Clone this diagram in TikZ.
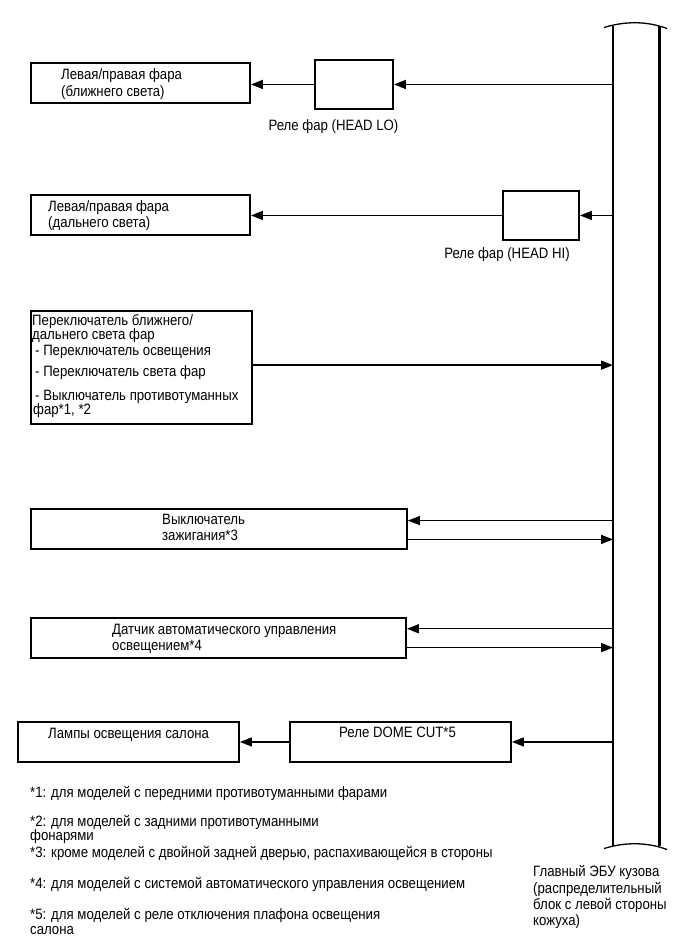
\documentclass[tikz,border=0pt]{standalone}
\usepackage{fontspec}
\setmainfont{Liberation Sans}[FakeStretch=0.88]
\usetikzlibrary{arrows.meta,calc}
\newcommand{\fsz}{\fontsize{15pt}{15pt}\selectfont}
\begin{document}
\begin{tikzpicture}[x=1pt,y=-1pt,
  box/.style={draw,line width=1.9pt,inner sep=0pt,anchor=north west},
  txt/.style={inner sep=0pt,anchor=base west,font=\fsz},
  ctxt/.style={inner sep=0pt,anchor=base,font=\fsz},
  conn/.style={line width=1.5pt,-{Triangle[length=12pt,width=9pt]}},
  wall/.style={line width=2.4pt},
  capline/.style={line width=1.3pt}]
\useasboundingbox (0,0) rectangle (689,950);

% ECU bus
\node[inner sep=0pt,minimum width=46pt,minimum height=820pt,anchor=north west] (bus) at (613,26) {};
\draw[wall] (bus.north west) -- (bus.south west);
\draw[wall] (bus.north east) -- (bus.south east);
\draw[capline] (604,27.5) .. controls (625,21) and (647,21) .. (667,28.5);
\draw[capline] (604,848.5) .. controls (625,842) and (647,842) .. (667,849.5);

% boxes
\node[box,minimum width=219pt,minimum height=40pt] (hlo) at (30,62) {};
\node[box,minimum width=78pt,minimum height=49pt] (rlo) at (314,59) {};
\node[box,minimum width=219pt,minimum height=40pt] (hhi) at (30,194) {};
\node[box,minimum width=76pt,minimum height=49pt] (rhi) at (502,190) {};
\node[box,minimum width=221pt,minimum height=113pt] (sw) at (30,310) {};
\node[box,minimum width=376pt,minimum height=40pt] (ig) at (30,508) {};
\node[box,minimum width=375pt,minimum height=40pt] (sn) at (30,617) {};
\node[box,minimum width=221pt,minimum height=40pt] (lamp) at (17,721) {};
\node[box,minimum width=221pt,minimum height=40pt] (dome) at (289,721) {};

% texts in boxes
\node[txt] (t1a) at (61,80) {Левая/правая фара};
\node[txt] (t1b) at (61,96.5) {(ближнего света)};
\node[ctxt] (tlo) at (333.5,130) {Реле фар (HEAD LO)};
\node[txt] (t2a) at (48,211) {Левая/правая фара};
\node[txt] (t2b) at (48,227) {(дальнего света)};
\node[ctxt] (thi) at (507,258) {Реле фар (HEAD HI)};
\node[txt] (s1) at (32,325) {Переключатель ближнего/};
\node[txt] (s2) at (32,339) {дальнего света фар};
\node[txt] (s3) at (35,355) {- Переключатель освещения};
\node[txt] (s4) at (35,376) {- Переключатель света фар};
\node[txt] (s5) at (35,400) {- Выключатель противотуманных};
\node[txt] (s6) at (33,414) {фар*1, *2};
\node[txt] (i1) at (162,524) {Выключатель};
\node[txt] (i2) at (162,540) {зажигания*3};
\node[txt] (n1) at (112,634) {Датчик автоматического управления};
\node[txt] (n2) at (112,650) {освещением*4};
\node[txt] (tl) at (48,738) {Лампы освещения салона};
\node[txt] (td) at (339,737.5) {Реле DOME CUT*5};

% footnotes
\node[txt] (f1) at (30,797) {*1: для моделей с передними противотуманными фарами};
\node[txt] (f2a) at (30,826) {*2: для моделей с задними противотуманными};
\node[txt] (f2b) at (30,840) {фонарями};
\node[txt] (f3) at (30,857.5) {*3: кроме моделей с двойной задней дверью, распахивающейся в стороны};
\node[txt] (f4) at (30,888) {*4: для моделей с системой автоматического управления освещением};
\node[txt] (f5a) at (30,919) {*5: для моделей с реле отключения плафона освещения};
\node[txt] (f5b) at (30,934) {салона};

% ECU label
\node[txt] (e1) at (533,876) {Главный ЭБУ кузова};
\node[txt] (e2) at (533,893) {(распределительный};
\node[txt] (e3) at (533,909) {блок с левой стороны};
\node[txt] (e4) at (533,925) {кожуха)};

% connectors
\draw[conn] (rlo.east -| bus.west) -- (rlo.east);
\draw[conn] (rlo.west) -- (rlo.west -| hlo.east);
\draw[conn] (rhi.east -| bus.west) -- (rhi.east);
\draw[conn] (rhi.west) -- (rhi.west -| hhi.east);
\coordinate (swo) at ($(sw.north east)!0.48!(sw.south east)$);
\draw[conn] (swo) -- (swo -| bus.west);
\coordinate (ig1) at ($(ig.north east)!0.3!(ig.south east)$);
\coordinate (ig2) at ($(ig.north east)!0.75!(ig.south east)$);
\draw[conn] (ig1 -| bus.west) -- (ig1);
\draw[conn] (ig2) -- (ig2 -| bus.west);
\coordinate (sn1) at ($(sn.north east)!0.28!(sn.south east)$);
\coordinate (sn2) at ($(sn.north east)!0.73!(sn.south east)$);
\draw[conn] (sn1 -| bus.west) -- (sn1);
\draw[conn] (sn2) -- (sn2 -| bus.west);
\draw[conn] (dome.east -| bus.west) -- (dome.east);
\draw[conn] (dome.west) -- (dome.west -| lamp.east);
\end{tikzpicture}
\end{document}
